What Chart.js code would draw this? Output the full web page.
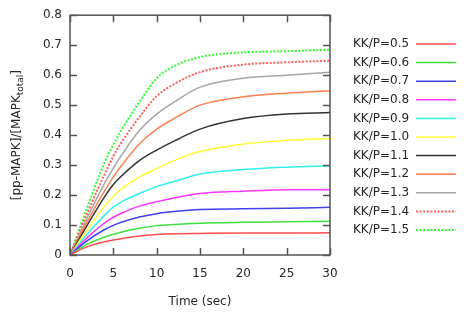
<!DOCTYPE html>
<html>
<head>
<meta charset="utf-8">
<script src="https://cdn.jsdelivr.net/npm/chart.js@4"></script>
<style>
  html, body { margin: 0; padding: 0; background: #fff; }
</style>
</head>
<body>
<canvas id="chart" width="471" height="314"></canvas>
<script>
// time axis (sec) and one series per KK/P ratio
const times = [0, 2, 4, 5, 6, 8, 10, 12, 15, 20, 25, 30];
const kp05 = [0, 0.028, 0.044, 0.050, 0.055, 0.063, 0.068, 0.071, 0.072, 0.073, 0.073, 0.074];
const kp06 = [0, 0.036, 0.060, 0.069, 0.077, 0.089, 0.098, 0.102, 0.106, 0.109, 0.111, 0.113];
const kp07 = [0, 0.048, 0.085, 0.099, 0.110, 0.127, 0.138, 0.145, 0.152, 0.154, 0.156, 0.159];
const kp08 = [0, 0.058, 0.107, 0.126, 0.140, 0.163, 0.178, 0.190, 0.205, 0.213, 0.218, 0.218];
const kp09 = [0, 0.070, 0.133, 0.160, 0.178, 0.205, 0.228, 0.245, 0.270, 0.285, 0.293, 0.298];
const kp10 = [0, 0.085, 0.163, 0.195, 0.222, 0.260, 0.288, 0.315, 0.345, 0.370, 0.383, 0.389];
const kp11 = [0, 0.100, 0.195, 0.235, 0.265, 0.315, 0.350, 0.380, 0.420, 0.455, 0.470, 0.475];
const kp12 = [0, 0.112, 0.215, 0.260, 0.300, 0.370, 0.420, 0.455, 0.500, 0.528, 0.540, 0.548];
const kp13 = [0, 0.125, 0.240, 0.290, 0.335, 0.415, 0.470, 0.510, 0.560, 0.590, 0.600, 0.610];
const kp14 = [0, 0.140, 0.270, 0.330, 0.378, 0.460, 0.530, 0.570, 0.610, 0.635, 0.643, 0.648];
const kp15 = [0, 0.160, 0.310, 0.368, 0.420, 0.510, 0.590, 0.630, 0.660, 0.676, 0.680, 0.685];

const seriesLabels = ['KK/P=0.5', 'KK/P=0.6', 'KK/P=0.7', 'KK/P=0.8', 'KK/P=0.9', 'KK/P=1.0',
                      'KK/P=1.1', 'KK/P=1.2', 'KK/P=1.3', 'KK/P=1.4', 'KK/P=1.5'];
const seriesValues = [kp05, kp06, kp07, kp08, kp09, kp10, kp11, kp12, kp13, kp14, kp15];
const seriesColors = ['#ff4d4d', '#3ee03e', '#4040f0', '#ff33ff', '#33f0f0', '#ffff33',
                      '#333333', '#ff7f50', '#a6a6a6', '#ff5c5c', '#33ff33'];
const dottedSeries = [false, false, false, false, false, false, false, false, false, true, true];

const xTicks = [0, 5, 10, 15, 20, 25, 30];
const yTicks = [0, 0.1, 0.2, 0.3, 0.4, 0.5, 0.6, 0.7, 0.8];

const FONT = '"DejaVu Sans", sans-serif';
const TEXT = '#262626';

// frame, inward ticks, axis titles and legend (gnuplot look)
const gnuplotFrame = {
    id: 'gnuplotFrame',
    afterDraw(chart) {
        const { ctx, chartArea: a, scales } = chart;
        const xs = scales.x, ys = scales.y;
        ctx.save();

        ctx.strokeStyle = '#555';
        ctx.lineWidth = 1.5;
        ctx.strokeRect(a.left, a.top, a.right - a.left, a.bottom - a.top);
        ctx.beginPath();
        xTicks.forEach(v => {
            const px = Math.round(xs.getPixelForValue(v)) + 0.5;
            ctx.moveTo(px, a.bottom); ctx.lineTo(px, a.bottom - 7);
            ctx.moveTo(px, a.top); ctx.lineTo(px, a.top + 7);
        });
        yTicks.forEach(v => {
            const py = Math.round(ys.getPixelForValue(v)) + 0.5;
            ctx.moveTo(a.left, py); ctx.lineTo(a.left + 7, py);
            ctx.moveTo(a.right, py); ctx.lineTo(a.right - 7, py);
        });
        ctx.stroke();

        // x title
        ctx.fillStyle = TEXT;
        ctx.font = '12px ' + FONT;
        ctx.textAlign = 'center';
        ctx.textBaseline = 'middle';
        ctx.fillText('Time (sec)', (a.left + a.right) / 2, 302);

        // y title with subscript
        const mainA = '[pp-MAPK]/[MAPK', sub = 'total', mainB = ']';
        ctx.font = '12px ' + FONT;
        const wA = ctx.measureText(mainA).width, wB = ctx.measureText(mainB).width;
        ctx.font = '9px ' + FONT;
        const wS = ctx.measureText(sub).width;
        ctx.translate(16, (a.top + a.bottom) / 2);
        ctx.rotate(-Math.PI / 2);
        ctx.textAlign = 'left';
        ctx.textBaseline = 'alphabetic';
        let tx = -(wA + wS + wB) / 2;
        ctx.font = '12px ' + FONT;
        ctx.fillText(mainA, tx, 4);
        tx += wA;
        ctx.font = '9px ' + FONT;
        ctx.fillText(sub, tx, 7);
        tx += wS;
        ctx.font = '12px ' + FONT;
        ctx.fillText(mainB, tx, 4);
        ctx.setTransform(1, 0, 0, 1, 0, 0);

        // legend: label then line sample
        chart.data.datasets.forEach((ds, i) => {
            const ly = 44 + i * 18.6;
            ctx.fillStyle = TEXT;
            ctx.font = '12px ' + FONT;
            ctx.textAlign = 'left';
            ctx.textBaseline = 'middle';
            ctx.fillText(ds.label, 353, ly);
            ctx.strokeStyle = ds.borderColor;
            ctx.lineWidth = ds.borderWidth;
            ctx.setLineDash(ds.borderDash || []);
            ctx.beginPath();
            ctx.moveTo(416, ly);
            ctx.lineTo(456, ly);
            ctx.stroke();
            ctx.setLineDash([]);
        });

        ctx.restore();
    }
};

const datasets = seriesLabels.map((label, i) => ({
    label: label,
    data: times.map((t, k) => ({ x: t, y: seriesValues[i][k] })),
    borderColor: seriesColors[i],
    borderWidth: dottedSeries[i] ? 2 : 1.5,
    borderDash: dottedSeries[i] ? [2, 1.6] : [],
    pointRadius: 0,
    fill: false,
    cubicInterpolationMode: 'monotone'
}));

new Chart(document.getElementById('chart'), {
    type: 'line',
    data: { datasets: datasets },
    options: {
        responsive: false,
        animation: false,
        layout: { padding: { left: 0, right: 141, top: 15, bottom: 0 } },
        scales: {
            x: {
                type: 'linear',
                min: 0, max: 30,
                afterFit: s => { s.height = 59; },
                afterBuildTicks: s => { s.ticks = xTicks.map(v => ({ value: v })); },
                grid: { display: false, drawTicks: false },
                border: { display: false },
                ticks: { font: { family: FONT, size: 12 }, color: TEXT, padding: 12, maxRotation: 0 }
            },
            y: {
                min: 0, max: 0.8,
                afterFit: s => { s.width = 70; },
                afterBuildTicks: s => { s.ticks = yTicks.map(v => ({ value: v })); },
                grid: { display: false, drawTicks: false },
                border: { display: false },
                ticks: { font: { family: FONT, size: 12 }, color: TEXT, padding: 8 }
            }
        },
        plugins: {
            legend: { display: false },
            tooltip: { enabled: false }
        }
    },
    plugins: [gnuplotFrame]
});
</script>
</body>
</html>
